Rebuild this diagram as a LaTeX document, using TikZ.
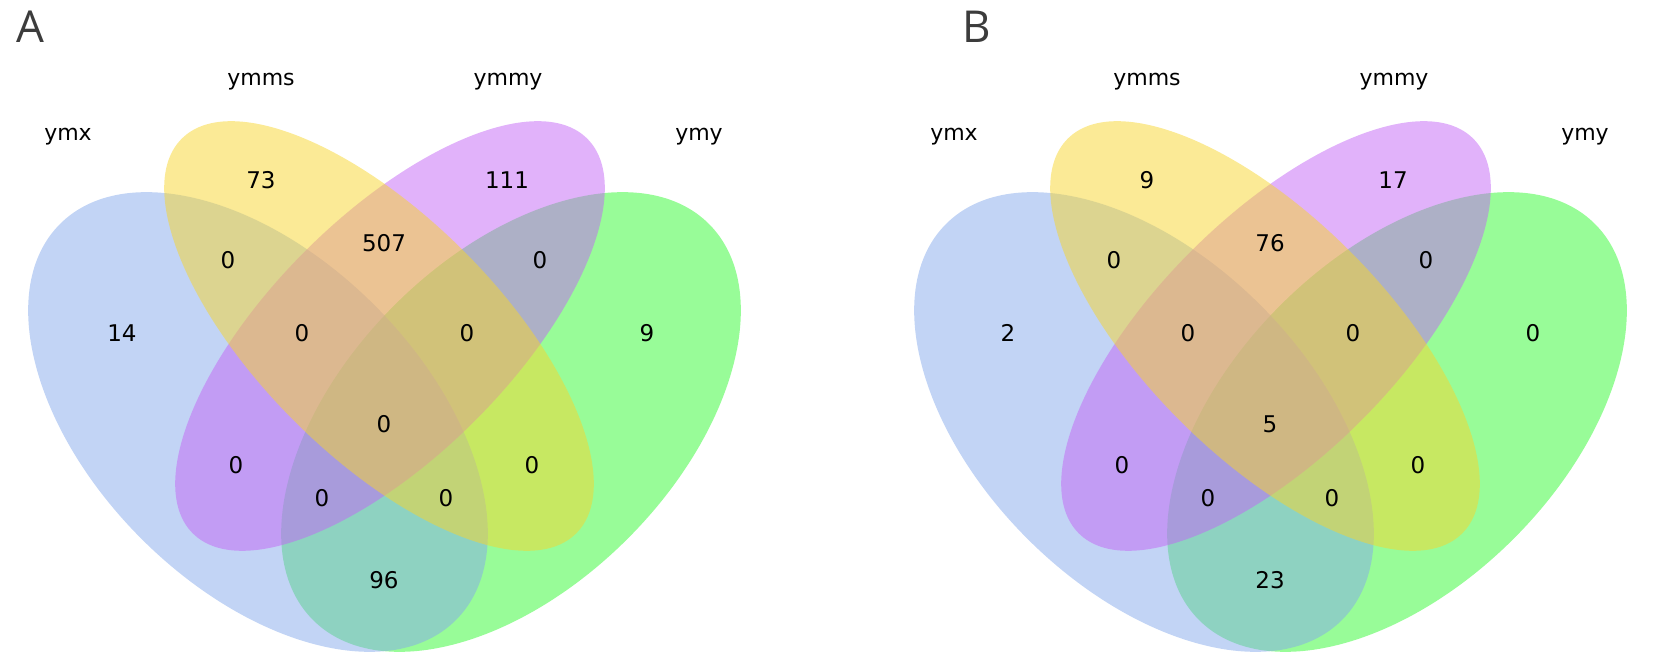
\documentclass[tikz,border=0pt]{standalone}
\usepackage{fontspec}
\setmainfont{DejaVu Sans}
\newfontfamily\panelfont{Open Sans}
\definecolor{cA}{RGB}{133,169,235}
\definecolor{cB}{RGB}{247,213,45}
\definecolor{cC}{RGB}{195,101,245}
\definecolor{cD}{RGB}{49,249,49}
\definecolor{panelgray}{RGB}{60,60,60}
\tikzset{num/.style={font=\fontsize{23}{25}\selectfont,inner sep=0pt},
lab/.style={font=\fontsize{22}{24}\selectfont,inner sep=0pt},
pan/.style={font=\panelfont\fontsize{44}{46}\selectfont,inner sep=0pt,text=panelgray},
blob/.style={fill opacity=0.5}}
\newcommand{\vennpanel}[1]{%
\begin{scope}[xshift=#1]
\fill[blob,cD,rotate around={45:(511,242)}] (511,242) ellipse [x radius=280pt,y radius=165pt];
\fill[blob,cA,rotate around={-45:(258,242)}] (258,242) ellipse [x radius=280pt,y radius=165pt];
\fill[blob,cC,rotate around={45:(390,328)}] (390,328) ellipse [x radius=279pt,y radius=120pt];
\fill[blob,cB,rotate around={-45:(379,328)}] (379,328) ellipse [x radius=279pt,y radius=120pt];
\end{scope}}
\begin{document}
\begin{tikzpicture}[x=1pt,y=1pt]
\useasboundingbox (0,0) rectangle (1654,664);
\vennpanel{0pt}
\vennpanel{886pt}
\node[pan] (panA) at (30,637) {A};
\node[pan] (panB) at (977,637) {B};
\foreach \dx/\p/\nA/\nB/\nC/\nD/\nE/\nF/\nG/\nH/\nI/\nJ/\nK/\nL/\nM/\nN/\nO in
 {0/A/73/111/0/507/0/14/0/0/9/0/0/0/0/0/96, 886/B/9/17/0/76/0/2/0/0/0/5/0/0/0/0/23}{
\begin{scope}[xshift=\dx pt]
\node[lab] (ymx\p) at (68,527) {ymx};
\node[lab] (ymms\p) at (261,582) {ymms};
\node[lab] (ymmy\p) at (508,582) {ymmy};
\node[lab] (ymy\p) at (699,527) {ymy};
\node[num] (a\p) at (261,484) {\nA};
\node[num] (b\p) at (507,484) {\nB};
\node[num] (c\p) at (228,404) {\nC};
\node[num] (d\p) at (384,421) {\nD};
\node[num] (e\p) at (540,404) {\nE};
\node[num] (f\p) at (122,331) {\nF};
\node[num] (g\p) at (302,331) {\nG};
\node[num] (h\p) at (467,331) {\nH};
\node[num] (i\p) at (647,331) {\nI};
\node[num] (j\p) at (384,240) {\nJ};
\node[num] (k\p) at (236,199) {\nK};
\node[num] (l\p) at (532,199) {\nL};
\node[num] (m\p) at (322,166) {\nM};
\node[num] (n\p) at (446,166) {\nN};
\node[num] (o\p) at (384,84) {\nO};
\end{scope}}
\end{tikzpicture}
\end{document}
